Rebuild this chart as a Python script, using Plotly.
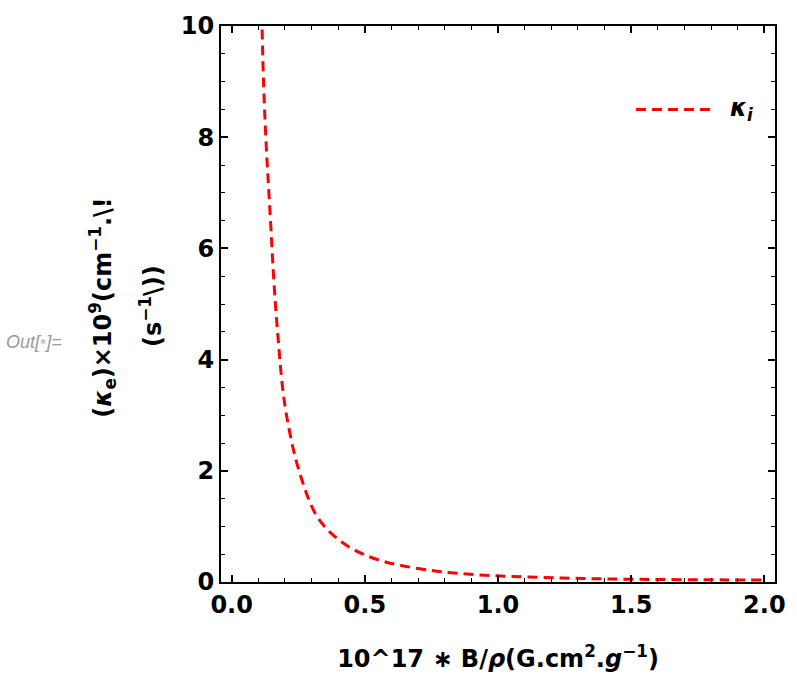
import plotly.graph_objects as go

# Data
x_vals = [0.110, 0.114, 0.119, 0.129, 0.143, 0.160, 0.175, 0.191, 0.207, 0.238,
          0.271, 0.290, 0.317, 0.345, 0.382, 0.431, 0.487, 0.549, 0.623, 0.746,
          0.850, 0.993, 1.240, 1.487, 1.857, 2.000]
kappa_i = [10.8, 10.0, 9.10, 7.92, 6.74, 5.30, 4.35, 3.50, 2.97, 2.26,
           1.73, 1.48, 1.205, 1.02, 0.84, 0.66, 0.515, 0.40, 0.31, 0.21,
           0.155, 0.112, 0.072, 0.05, 0.038, 0.035]
x_ticks = [0.0, 0.5, 1.0, 1.5, 2.0]
x_ticklabels = ["0.0", "0.5", "1.0", "1.5", "2.0"]
y_ticks = [0, 2, 4, 6, 8, 10]
y_ticklabels = ["0", "2", "4", "6", "8", "10"]
series_name = "κ<sub>i</sub>"

FONT = "DejaVu Sans, Verdana, sans-serif"
UIFONT = "Liberation Sans, Arial, sans-serif"
FS = 24
RED = "#FF0000"

L, R, T, B = 221, 14, 16, 98
W, H = 797, 680
pw = W - L - R
ph = H - T - B

fig = go.Figure()
fig.add_trace(go.Scatter(
    x=x_vals, y=kappa_i, mode="lines", name=series_name,
    line=dict(color=RED, width=3, dash="10px,6px", shape="spline", smoothing=1.0),
    showlegend=False, hoverinfo="x+y",
))

axis_common = dict(
    showline=True, linecolor="black", linewidth=2, mirror="ticks",
    ticks="inside", ticklen=7, tickwidth=1.5, tickcolor="black",
    showgrid=False, zeroline=False,
    tickfont=dict(family=FONT, size=FS, color="black", weight="bold"),
)

fig.update_xaxes(
    range=[-0.04, 2.04], tickvals=x_ticks, ticktext=x_ticklabels,
    minor=dict(dtick=0.1, ticks="inside", ticklen=4, tickwidth=1.2, tickcolor="black", showgrid=False),
    title=dict(text="<b>10^17 ∗ B/<i>ρ</i>(G.cm<sup>2</sup>.<i>g</i><sup>−1</sup>)</b>",
               font=dict(family=FONT, size=FS, color="black"), standoff=32),
    **axis_common,
)
fig.update_yaxes(
    range=[0, 10], tickvals=y_ticks, ticktext=y_ticklabels,
    minor=dict(dtick=0.5, ticks="inside", ticklen=4, tickwidth=1.2, tickcolor="black", showgrid=False),
    ticklabelstandoff=0,
    **axis_common,
)

def px2paper_x(px):
    return (px - L) / pw

def py2paper_y(py):
    return 1 - (py - T) / ph

annotations = [
    dict(text="<b>(<i>κ</i><sub>e</sub>)×10<sup>9</sup>(cm<sup>−1</sup>.\\!</b>",
         xref="paper", yref="paper", x=px2paper_x(101), y=py2paper_y(303),
         xanchor="center", yanchor="middle", textangle=-90, showarrow=False,
         font=dict(family=FONT, size=FS, color="black")),
    dict(text="<b>(s<sup>−1</sup>\\))</b>",
         xref="paper", yref="paper", x=px2paper_x(150), y=py2paper_y(301),
         xanchor="center", yanchor="middle", textangle=-90, showarrow=False,
         font=dict(family=FONT, size=FS, color="black")),
    dict(text="<i>Out[</i><span style='color:#cccccc'>•</span><i>]=</i>",
         xref="paper", yref="paper", x=px2paper_x(1), y=py2paper_y(338),
         xanchor="left", yanchor="middle", showarrow=False,
         font=dict(family=UIFONT, size=18, color="#999999")),
    dict(text="<b><i>" + series_name + "</i></b>",
         xref="paper", yref="paper", x=px2paper_x(735), y=py2paper_y(101),
         xanchor="left", yanchor="middle", showarrow=False,
         font=dict(family=FONT, size=FS, color="black")),
]

shapes = [
    dict(type="line", xref="paper", yref="paper",
         x0=px2paper_x(642), x1=px2paper_x(717), y0=py2paper_y(101), y1=py2paper_y(101),
         line=dict(color=RED, width=3, dash="10px,6px")),
]

fig.update_layout(
    width=W, height=H, margin=dict(l=L, r=R, t=T, b=B, pad=0),
    paper_bgcolor="white", plot_bgcolor="white",
    font=dict(family=FONT, size=FS, color="black"),
    annotations=annotations, shapes=shapes, showlegend=False,
)

fig.write_html("out.html")
